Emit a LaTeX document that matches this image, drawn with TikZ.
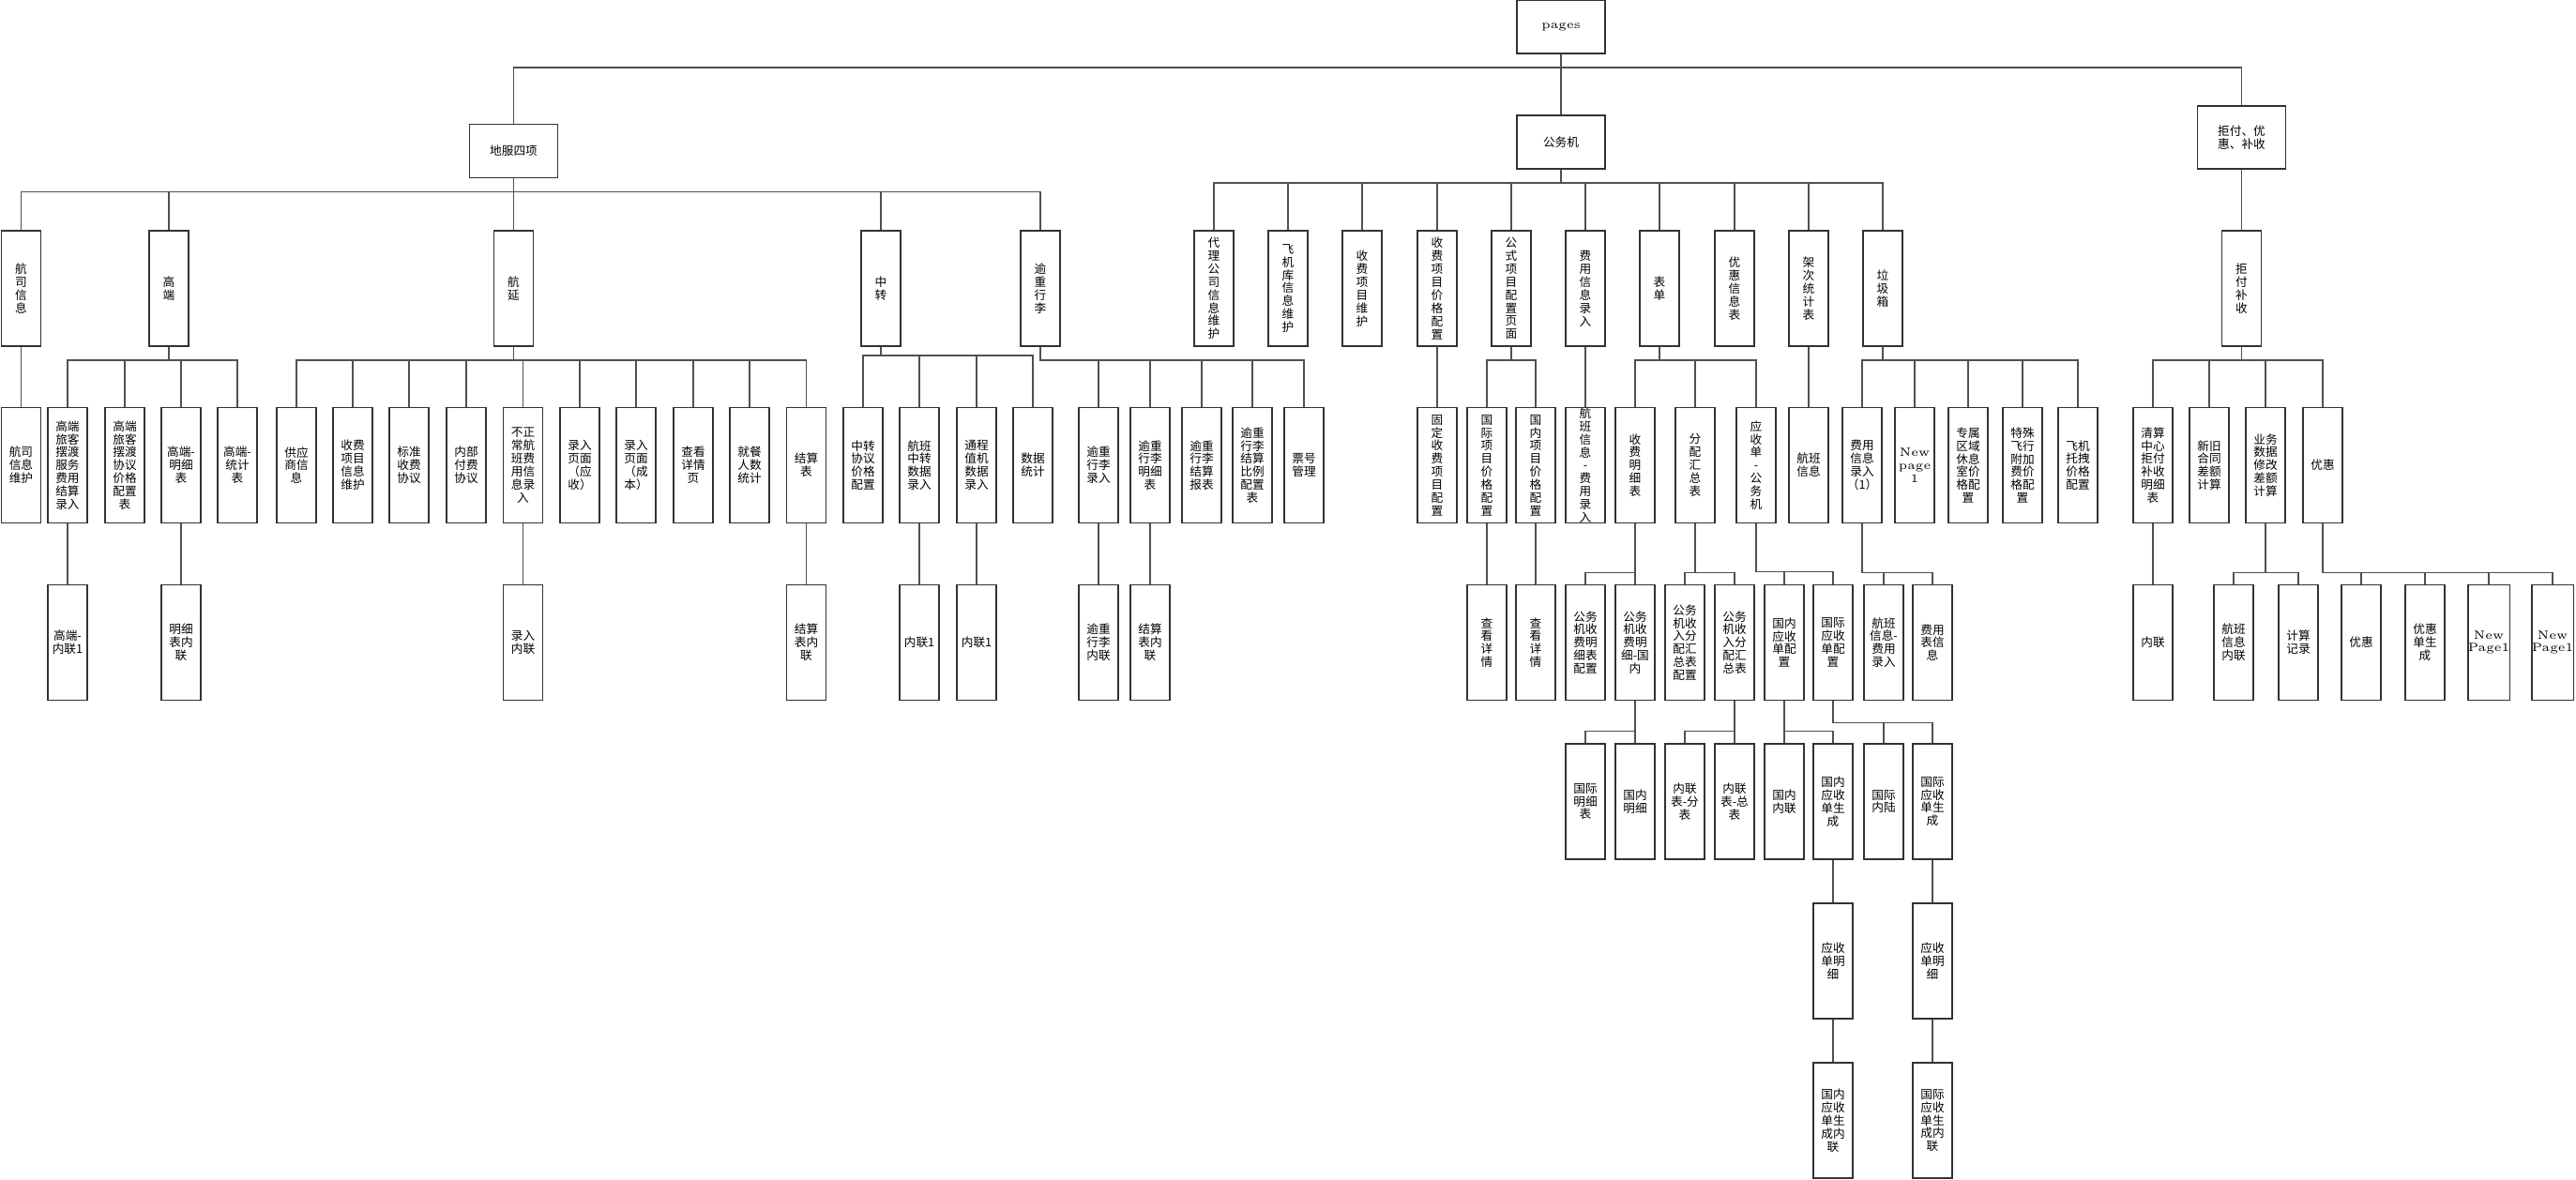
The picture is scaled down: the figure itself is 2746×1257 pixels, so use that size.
\documentclass[tikz,border=0pt]{standalone}
\usepackage{fontspec}
\usepackage{tikz}
\newfontfamily\cjk{Noto Sans CJK SC}
\definecolor{boxgray}{RGB}{50,50,50}
\definecolor{wiregray}{RGB}{80,80,80}
\colorlet{figink}{boxgray}
\colorlet{figwire}{wiregray}
\newcommand\boxfont{\fontsize{3.6pt}{3.95pt}\selectfont}

\begin{document}
\begin{tikzpicture}[
  x=0.1mm, y=-0.1mm,
  font=\cjk\boxfont,
  box/.style={draw=figink, line width=0.15mm, fill=white, inner sep=0pt,
    align=center, minimum width=4.2mm, minimum height=12.3mm},
  headbox/.style={box, minimum width=9.4mm, minimum height=5.7mm},
  latin/.style={font=\rmfamily\boxfont},
  wire/.style={draw=figwire, line width=0.15mm},
]
  \useasboundingbox (0,0) rectangle (2746,1257);

  \node[headbox, latin] (pages) at (1664,28.5) {pages};
  \node[headbox] (ground) at (547.5,161) {地服四项};
  \node[headbox] (bizjet) at (1664,151.5) {公务机};
  \node[headbox, minimum height=6.7mm] (refund) at (2389.5,146.5) {拒付、优\\惠、补收};

  \foreach \n/\x/\t in {
    gAir/22.5/{航\\司\\信\\息}, gHigh/180/{高\\端}, gDelay/547.5/{航\\延},
    gTrans/939/{中\\转}, gBag/1109/{逾\\重\\行\\李},
    jAgent/1294/{代\\理\\公\\司\\信\\息\\维\\护},
    jHangar/1373/{飞\\机\\库\\信\\息\\维\\护},
    jItem/1452/{收\\费\\项\\目\\维\\护},
    jPrice/1532/{收\\费\\项\\目\\价\\格\\配\\置},
    jFormula/1611/{公\\式\\项\\目\\配\\置\\页\\面},
    jFee/1690/{费\\用\\信\\息\\录\\入}, jForm/1769/{表\\单},
    jDisc/1849/{优\\惠\\信\\息\\表}, jSortie/1928/{架\\次\\统\\计\\表},
    jBin/2007/{垃\\圾\\箱}, rRefund/2389.5/{拒\\付\\补\\收}%
  } \node[box] (\n) at (\x,307.5) {\t};

  \foreach \n/\x/\t in {
    gAirKeep/22.5/{航司\\信息\\维护},
    gHighPay/72/{高端\\旅客\\摆渡\\服务\\费用\\结算\\录入},
    gHighCfg/133/{高端\\旅客\\摆渡\\协议\\价格\\配置\\表},
    gHighDet/193/{高端-\\明细\\表}, gHighSum/253/{高端-\\统计\\表},
    gSupply/316/{供应\\商信\\息}, gItemInfo/376/{收费\\项目\\信息\\维护},
    gStdFee/436/{标准\\收费\\协议}, gInFee/497/{内部\\付费\\协议},
    gAbnormal/557.5/{不正\\常航\\班费\\用信\\息录\\入},
    gInRecv/618/{录入\\页面\\（应\\收）}, gInCost/678/{录入\\页面\\（成\\本）},
    gDetail/739/{查看\\详情\\页}, gMeal/799/{就餐\\人数\\统计},
    gSettle/859.5/{结算\\表},
    gTransCfg/920/{中转\\协议\\价格\\配置}, gTransIn/980/{航班\\中转\\数据\\录入},
    gThrough/1041/{通程\\值机\\数据\\录入}, gTransSum/1101/{数据\\统计},
    gBagIn/1171/{逾重\\行李\\录入}, gBagDet/1226/{逾重\\行李\\明细\\表},
    gBagRep/1281/{逾重\\行李\\结算\\报表},
    gBagRate/1335/{逾重\\行李\\结算\\比例\\配置\\表}, gTicket/1390/{票号\\管理},
    jFixed/1532/{固\\定\\收\\费\\项\\目\\配\\置},
    jIntlPrice/1585/{国\\际\\项\\目\\价\\格\\配\\置},
    jDomPrice/1637/{国\\内\\项\\目\\价\\格\\配\\置},
    jFeeFlight/1690/{航\\班\\信\\息\\-\\费\\用\\录\\入},
    jFeeList/1743/{收\\费\\明\\细\\表}, jAlloc/1807/{分\\配\\汇\\总\\表},
    jRecv/1872/{应\\收\\单\\-\\公\\务\\机}, jFlight/1928/{航班\\信息},
    jBinFee/1985/{费用\\信息\\录入\\（1）},
    jLounge/2098/{专属\\区域\\休息\\室价\\格配\\置},
    jSpecial/2156/{特殊\\飞行\\附加\\费价\\格配\\置},
    jTow/2215/{飞机\\托拽\\价格\\配置},
    rClear/2295/{清算\\中心\\拒付\\补收\\明细\\表},
    rContract/2355/{新旧\\合同\\差额\\计算},
    rModify/2415/{业务\\数据\\修改\\差额\\计算}, rDisc/2476/{优惠}%
  } \node[box] (\n) at (\x,496) {\t};
  \node[box, latin] (jBinNew) at (2041,496) {New\\page\\1};

  \foreach \n/\x/\t in {
    gHighPayIn/72/{高端-\\内联1}, gHighDetIn/193/{明细\\表内\\联},
    gAbnIn/557.5/{录入\\内联}, gSettleIn/859.5/{结算\\表内\\联},
    gTransInIn/980/{内联1}, gThroughIn/1041/{内联1},
    gBagInIn/1171/{逾重\\行李\\内联}, gBagDetIn/1226/{结算\\表内\\联},
    jIntlView/1585/{查\\看\\详\\情}, jDomView/1637/{查\\看\\详\\情},
    jListCfg/1690/{公务\\机收\\费明\\细表\\配置},
    jListDom/1743/{公务\\机收\\费明\\细-国\\内},
    jAllocCfg/1796/{公务\\机收\\入分\\配汇\\总表\\配置},
    jAllocSum/1849/{公务\\机收\\入分\\配汇\\总表},
    jRecvDom/1902/{国内\\应收\\单配\\置}, jRecvIntl/1954/{国际\\应收\\单配\\置},
    jBinFlight/2008/{航班\\信息-\\费用\\录入}, jBinTable/2060/{费用\\表信\\息},
    rClearIn/2295/{内联}, rModFlight/2381/{航班\\信息\\内联},
    rModCalc/2450/{计算\\记录}, rDiscA/2517/{优惠}, rDiscGen/2585/{优惠\\单生\\成}%
  } \node[box] (\n) at (\x,685) {\t};
  \node[box, latin] (rDiscNewA) at (2653,685) {New\\Page1};
  \node[box, latin] (rDiscNewB) at (2721,685) {New\\Page1};

  \foreach \n/\x/\t in {
    jDomIntlDet/1690/{国际\\明细\\表}, jDomDomDet/1743/{国内\\明细},
    jSubTab/1796/{内联\\表-分\\表}, jTotTab/1849/{内联\\表-总\\表},
    jDomLink/1902/{国内\\内联}, jDomGen/1954/{国内\\应收\\单生\\成},
    jInland/2008/{国际\\内陆}, jIntlGen/2060/{国际\\应收\\单生\\成}%
  } \node[box] (\n) at (\x,854.5) {\t};

  \node[box] (jDomGenDet) at (1954,1024.5) {应收\\单明\\细};
  \node[box] (jIntlGenDet) at (2060,1024.5) {应收\\单明\\细};
  \node[box] (jDomGenIn) at (1954,1194.5) {国内\\应收\\单生\\成内\\联};
  \node[box] (jIntlGenIn) at (2060,1194.5) {国际\\应收\\单生\\成内\\联};

  \foreach \p/\d/\cs in {
    pages/14/{ground,bizjet,refund},
    ground/14/{gAir,gHigh,gDelay,gTrans,gBag},
    bizjet/14/{jAgent,jHangar,jItem,jPrice,jFormula,jFee,jForm,jDisc,jSortie,jBin},
    refund/20/{rRefund},
    gAir/14/{gAirKeep},
    gHigh/14/{gHighPay,gHighCfg,gHighDet,gHighSum},
    gDelay/14/{gSupply,gItemInfo,gStdFee,gInFee,gAbnormal,gInRecv,gInCost,gDetail,gMeal,gSettle},
    gTrans/9/{gTransCfg,gTransIn,gThrough,gTransSum},
    gBag/14/{gBagIn,gBagDet,gBagRep,gBagRate,gTicket},
    jPrice/14/{jFixed}, jFormula/14/{jIntlPrice,jDomPrice}, jFee/14/{jFeeFlight},
    jForm/14/{jFeeList,jAlloc,jRecv}, jSortie/14/{jFlight},
    jBin/14/{jBinFee,jBinNew,jLounge,jSpecial,jTow},
    rRefund/14/{rClear,rContract,rModify,rDisc},
    gHighPay/52/{gHighPayIn}, gHighDet/52/{gHighDetIn}, gAbnormal/52/{gAbnIn},
    gSettle/52/{gSettleIn}, gTransIn/52/{gTransInIn}, gThrough/52/{gThroughIn},
    gBagIn/52/{gBagInIn}, gBagDet/52/{gBagDetIn},
    jIntlPrice/52/{jIntlView}, jDomPrice/52/{jDomView},
    jFeeList/52/{jListCfg,jListDom}, jAlloc/52/{jAllocCfg,jAllocSum},
    jRecv/51/{jRecvDom,jRecvIntl}, jBinFee/52/{jBinFlight,jBinTable},
    rClear/52/{rClearIn}, rModify/52/{rModFlight,rModCalc},
    rDisc/52/{rDiscA,rDiscGen,rDiscNewA,rDiscNewB},
    jListDom/32/{jDomIntlDet,jDomDomDet}, jAllocSum/32/{jSubTab,jTotTab},
    jRecvDom/32/{jDomLink,jDomGen}, jRecvIntl/23/{jInland,jIntlGen},
    jDomGen/20/{jDomGenDet}, jIntlGen/20/{jIntlGenDet},
    jDomGenDet/20/{jDomGenIn}, jIntlGenDet/20/{jIntlGenIn}%
  } \foreach \c in \cs \draw[wire] (\p.south) -- ++(0,\d) -| (\c.north);
\end{tikzpicture}
\end{document}
